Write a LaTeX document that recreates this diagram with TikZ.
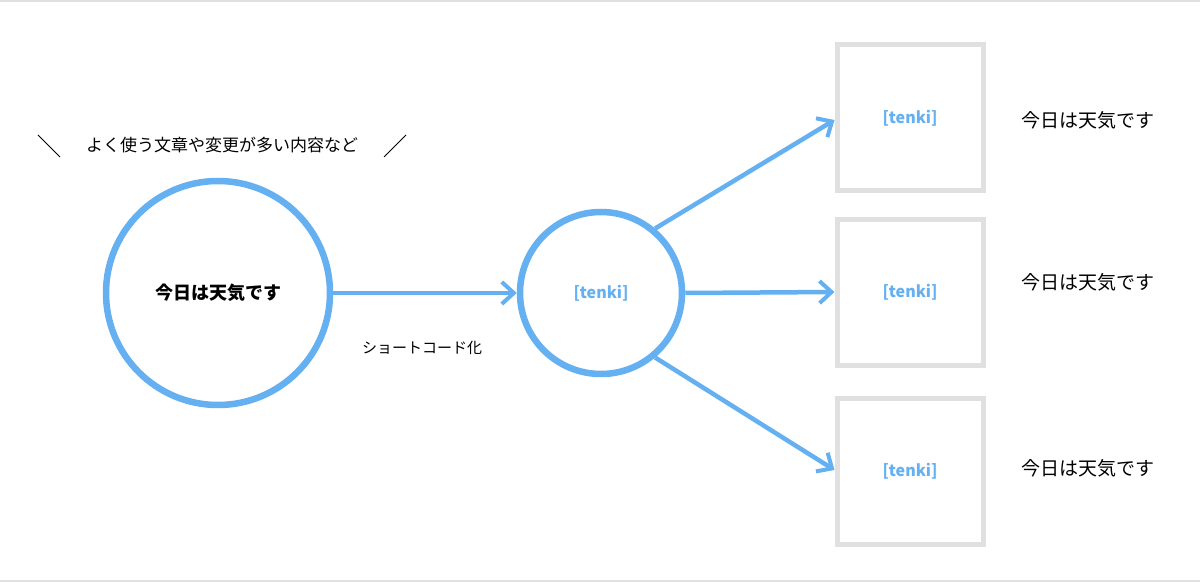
\documentclass[tikz,border=0pt]{standalone}
\usepackage{fontspec}
\setmainfont{Noto Sans CJK JP}
\usetikzlibrary{arrows.meta}
\definecolor{cblue}{HTML}{64B0F0}
\definecolor{cgray}{HTML}{E0E0E0}
\begin{document}
\begin{tikzpicture}[x=1pt,y=-1pt,
  circ/.style={circle,draw=cblue,line width=6.5pt,fill=white},
  sbox/.style={draw=cgray,line width=5pt,minimum width=146pt,minimum height=146pt},
  arr/.style={draw=cblue,line width=4.5pt,-{Straight Barb[length=12pt,width=22pt,line width=4pt]}},
  lbl/.style={font=\fontsize{19}{21}\selectfont},
  tag/.style={font=\bfseries\fontsize{16}{18}\selectfont,text=cblue}]
\useasboundingbox (0,0) rectangle (1200,583);
\fill[white] (0,0) rectangle (1200,583);
\draw[cgray,line width=1.5pt] (0,1) -- (1200,1) (0,581) -- (1200,581);
\node[circ,minimum size=224pt] (big) at (218,293) {};
\node[font=\bfseries\fontsize{18}{20}\selectfont] at (big) {今日は天気です};
\node[circ,minimum size=162pt] (mid) at (601,293) {};
\node[tag] at (mid) {[tenki]};
\node[sbox] (b1) at (910,118) {};
\node[sbox] (b2) at (910,292) {};
\node[sbox] (b3) at (910,471) {};
\node[tag] at (b1) {[tenki]};
\node[tag] at (b2) {[tenki]};
\node[tag] at (b3) {[tenki]};
\node[lbl] (t1) at (1088,120) {今日は天気です};
\node[lbl] (t2) at (1088,282) {今日は天気です};
\node[lbl] (t3) at (1088,468) {今日は天気です};
\draw[arr] (big.east) -- (mid.west);
\draw[arr] (mid.50) -- (b1.west |- 0,120);
\draw[arr] (mid.east) -- (b2.west);
\draw[arr] (mid.-50) -- (b3.west |- 0,470);
\node[font=\fontsize{15}{17}\selectfont] (sc) at (422,348) {ショートコード化};
\node[font=\fontsize{17}{19}\selectfont] (head) at (222,145) {よく使う文章や変更が多い内容など};
\draw[line width=1pt] (38,135) -- (60,157);
\draw[line width=1pt] (384,157) -- (406,135);
\end{tikzpicture}
\end{document}
